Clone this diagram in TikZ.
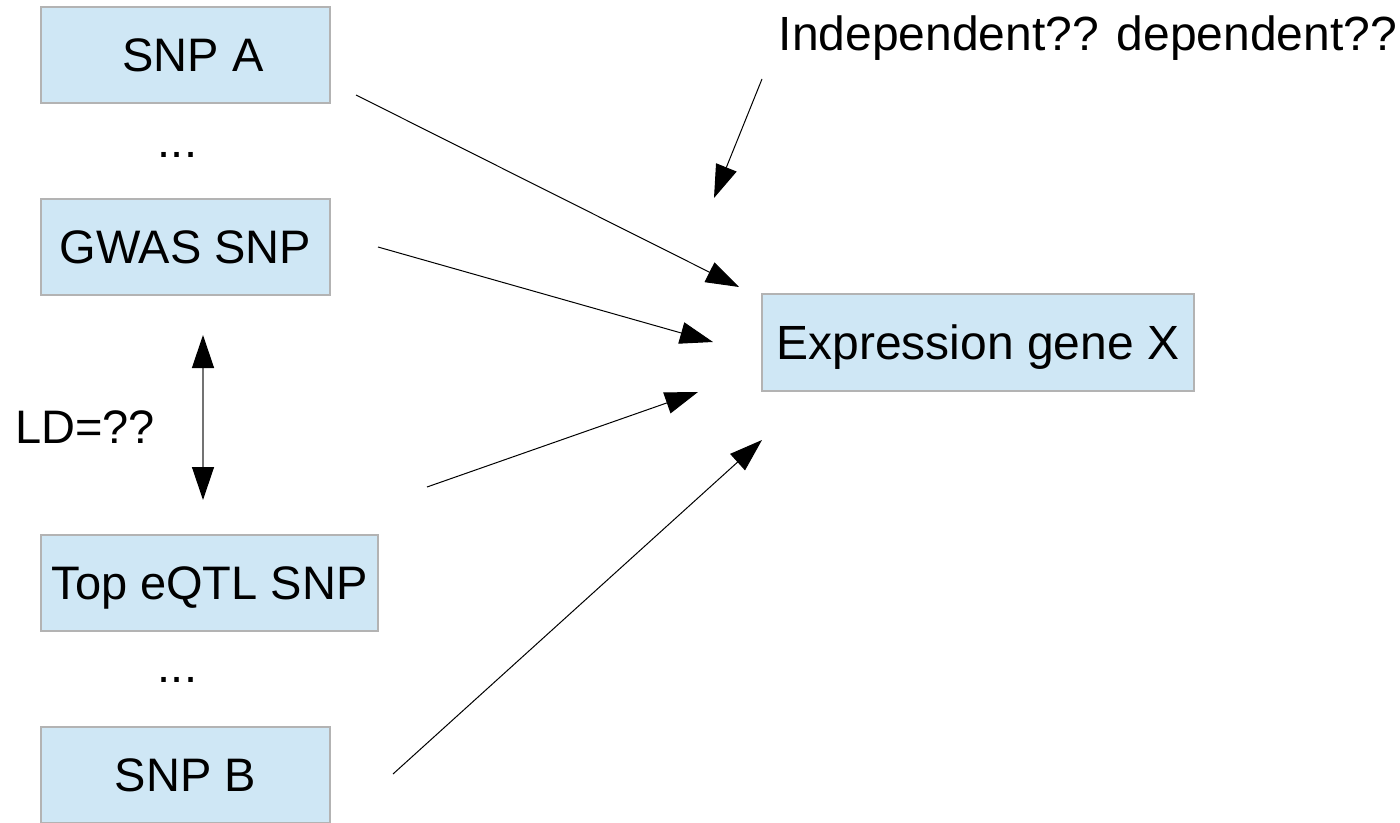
\documentclass[tikz,border=0pt]{standalone}
\usepackage{fontspec}
\setmainfont{Liberation Sans}
\usetikzlibrary{arrows.meta}
\definecolor{boxfill}{HTML}{CFE7F5}
\definecolor{boxline}{HTML}{B3B3B3}

\begin{document}
\begin{tikzpicture}[x=1pt,y=-1pt,
  snpbox/.style={draw=boxline, line width=1.3pt, fill=boxfill, inner sep=0pt,
    minimum height=96pt, font=\fontsize{47}{56}\selectfont,
    text height=33.6pt, text depth=0pt},
  genebox/.style={snpbox, minimum height=97pt, font=\fontsize{48}{58}\selectfont,
    text height=34.4pt},
  plain/.style={inner sep=0pt, font=\fontsize{47}{56}\selectfont},
  link/.style={line width=1pt, -{Triangle[length=33pt,width=22pt]}},
  ldlink/.style={line width=1.3pt, draw=black!55,
    {Triangle[length=33pt,width=22pt,fill=black,color=black]}-{Triangle[length=33pt,width=22pt,fill=black,color=black]}}
]
\useasboundingbox (0,0) rectangle (1400,822);

% SNP column
\node[snpbox, minimum width=289pt] (snpa) at (185.5,55) {\hspace*{15pt}SNP A};
\node[plain, anchor=base] (dots1) at (177.5,157) {...};
\node[snpbox, minimum width=289pt] (gwas) at (185.5,247) {GWAS SNP};
\node[snpbox, minimum width=337pt] (eqtl) at (209.5,583) {Top eQTL SNP};
\node[plain, anchor=base] (dots2) at (177.5,682) {...};
\node[snpbox, minimum width=289pt] (snpb) at (185.5,775) {SNP B};

% target gene
\node[genebox, minimum width=432pt] (expr) at (978,342.5) {Expression gene X};

% annotations
\node[plain, anchor=base west, font=\fontsize{48}{58}\selectfont] (indep) at (778.5,50) {Independent?? dependent??};
\node[plain, anchor=base west] (ld) at (15,443) {LD=??};

% connector end points
\coordinate (aS) at (356,95);   \coordinate (aE) at (739,287);
\coordinate (bS) at (378,247);  \coordinate (bE) at (713,342);
\coordinate (cS) at (427,487);  \coordinate (cE) at (698,392);
\coordinate (dS) at (393,774);  \coordinate (dE) at (762,440);
\coordinate (iS) at (762,79);   \coordinate (iE) at (714,198);
\coordinate (ldT) at (203,335); \coordinate (ldB) at (203,500);

% effects on expression
\draw[link] (aS) -- (aE);
\draw[link] (bS) -- (bE);
\draw[link] (cS) -- (cE);
\draw[link] (dS) -- (dE);
\draw[link] (iS) -- (iE);

% linkage disequilibrium between the two SNPs
\draw[ldlink] (ldT) -- (ldB);
\end{tikzpicture}
\end{document}
